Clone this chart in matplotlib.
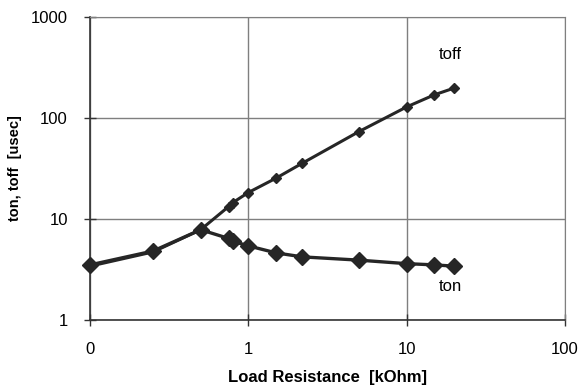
import matplotlib.pyplot as plt
from matplotlib.ticker import FixedLocator, FixedFormatter, NullLocator

plt.rcParams['font.family'] = ['Liberation Sans', 'DejaVu Sans']

# load resistance [kOhm] (0 drawn at the 0.1 position of the log axis)
r_ton = [0.1, 0.25, 0.5, 0.75, 0.8, 1, 1.5, 2.2, 5, 10, 15, 20]
ton = [3.5, 4.8, 7.8, 6.4, 6.0, 5.4, 4.6, 4.2, 3.9, 3.6, 3.5, 3.4]

r_toff = [0.1, 0.25, 0.5, 0.75, 0.8, 1, 1.5, 2.2, 5, 10, 15, 20]
toff = [3.4, 4.7, 7.8, 13.2, 14.5, 18.2, 25.3, 35.6, 73, 128, 169, 197]

x_ticks = [0.1, 1, 10, 100]
x_labels = ['0', '1', '10', '100']
y_ticks = [1, 10, 100, 1000]
y_labels = ['1', '10', '100', '1000']

fig = plt.figure(figsize=(5.81, 3.91), dpi=100)
ax = fig.add_axes([0.155, 0.182, 0.817, 0.775])

ax.plot(r_toff, toff, color='#262626', lw=2.2, marker='D', ms=5, zorder=3, clip_on=False)
ax.plot(r_ton, ton, color='#262626', lw=2.4, marker='D', ms=8, zorder=4, clip_on=False)

ax.set_xscale('log')
ax.set_yscale('log')
ax.set_xlim(0.1, 100)
ax.set_ylim(1, 1000)
ax.xaxis.set_major_locator(FixedLocator(x_ticks))
ax.xaxis.set_major_formatter(FixedFormatter(x_labels))
ax.yaxis.set_major_locator(FixedLocator(y_ticks))
ax.yaxis.set_major_formatter(FixedFormatter(y_labels))
ax.xaxis.set_minor_locator(NullLocator())
ax.yaxis.set_minor_locator(NullLocator())

ax.grid(True, color='#7f7f7f', lw=1.0)
for s in ['top', 'right']:
    ax.spines[s].set_color('#7f7f7f')
for s in ['left', 'bottom']:
    ax.spines[s].set_color('#333333')
    ax.spines[s].set_linewidth(1.2)
ax.tick_params(axis='both', direction='inout', length=8, width=1, colors='#333333',
               labelsize=12, labelcolor='black')
ax.tick_params(axis='x', pad=12)
ax.tick_params(axis='y', pad=12)

# series labels next to the curves
ax.text(19, 420, 'toff', fontsize=12, ha='center', va='center')
ax.text(19, 2.12, 'ton', fontsize=12, ha='center', va='center')

ax.set_xlabel('Load Resistance  [kOhm]', fontsize=12, fontweight='bold', labelpad=9)
ax.set_ylabel('ton, toff  [usec]', fontsize=10.5, fontweight='bold', labelpad=6)

fig.savefig('out.png', dpi=100)
